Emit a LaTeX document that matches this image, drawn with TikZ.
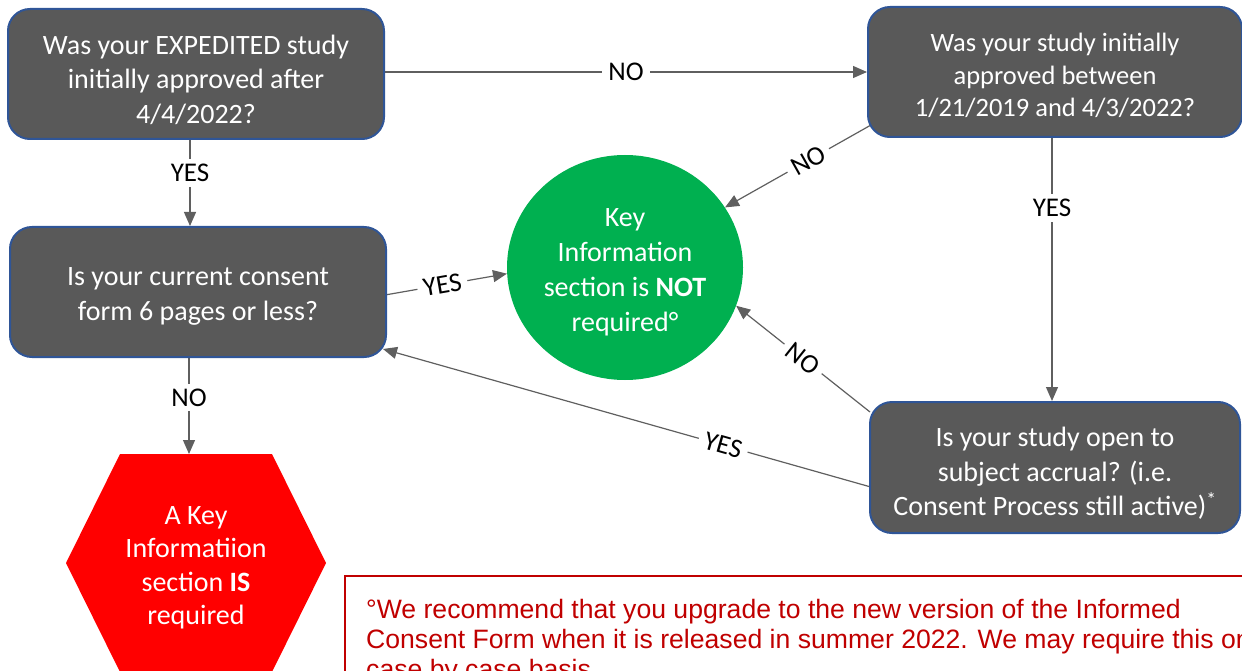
\documentclass[tikz,border=0pt]{standalone}
\usepackage{fontspec}
\setmainfont{Carlito}
\newfontfamily\arialfont{Liberation Sans}
\usetikzlibrary{arrows.meta,calc,shapes.geometric}
\pgfdeclarelayer{background}
\pgfsetlayers{background,main}
\definecolor{boxgray}{HTML}{595959}
\definecolor{boxblue}{HTML}{2F5597}
\definecolor{kgreen}{HTML}{00B050}
\definecolor{kred}{HTML}{FF0000}
\definecolor{dred}{HTML}{C00000}
\definecolor{lgray}{HTML}{5F5F5F}
\newcommand\topsp[1]{\rule{0pt}{#1}}
\begin{document}
\begin{tikzpicture}[x=1pt,y=-1pt,
  qbox/.style={draw=boxblue, line width=2pt, fill=boxgray, rounded corners=22pt,
    minimum width=376pt, minimum height=130pt, text=white, align=center,
    font=\fontsize{28}{34.5}\selectfont, inner sep=0pt},
  conn/.style={draw=lgray, line width=1.2pt, -{Triangle[length=14pt,width=12pt]}},
  lab/.style={fill=white, inner xsep=6pt, inner ysep=5pt, font=\fontsize{27}{30}\selectfont, text=black},
  endtext/.style={text=white, align=center, inner sep=0pt}
]
\useasboundingbox (0,0) rectangle (1242,671);
\clip (0,0) rectangle (1242,671);

% question boxes
\node[qbox] (A) at (196,74) {\topsp{40pt}Was your EXPEDITED study\\initially approved after\\4/4/2022?\strut};
\node[qbox, minimum width=374pt, font=\fontsize{26.5}{32.5}\selectfont] (B) at (1055,72)
  {\topsp{34.5pt}Was your study initially\\approved between\\1/21/2019 and 4/3/2022?\strut};
\node[qbox] (C) at (198,292) {\topsp{32pt}Is your current consent\\form 6 pages or less?\strut};
\node[qbox, minimum width=370pt, minimum height=131pt] (D) at (1055,467.5)
  {\topsp{38pt}Is your study open to\\subject accrual? (i.e.\\Consent Process still active)\textsuperscript{*}\strut};

% result ellipse
\node[ellipse, fill=kgreen, minimum width=236pt, minimum height=225pt, endtext,
  font=\fontsize{28}{35}\selectfont] (K) at (625,267.5)
  {\topsp{33pt}Key\\Information\\section is \textbf{NOT}\\required°\strut};

% result hexagon
\fill[kred] (120,454) -- (272,454) -- (326,563) -- (272,672) -- (120,672) -- (66,563) -- cycle;
\node[endtext, font=\fontsize{28}{33.4}\selectfont] (H) at (196,565)
  {\topsp{29pt}A Key\\Informatiion\\section \textbf{IS}\\required\strut};
\coordinate (Htop) at (189,454);

% note box
\draw[dred, line width=2pt] (345,576) rectangle (1320,740);
\node[anchor=north west, align=left, inner sep=0pt, text=dred,
  font=\arialfont\fontsize{26.6}{30}\selectfont] (note) at (366,597)
  {\strut °We recommend that you upgrade to the new version of the Informed\\
   Consent Form when it is released in summer 2022. We may require this on a\\
   case by case basis.\strut};

% connector end points
\coordinate (a0) at ($(A.east)+(0,-2)$);
\coordinate (a1) at ($(A.south)+(-6,0)$);
\coordinate (b1) at ($(B.south)+(-3,0)$);
\coordinate (c1) at ($(C.south)+(-9,0)$);
\coordinate (c2) at ($(C.east)+(-2,3)$);
\coordinate (c3) at ($(C.south east)+(-4,-9)$);
\coordinate (b2) at ($(B.south west)+(4,-13)$);
\coordinate (d1) at ($(D.north west)+(1,11)$);
\coordinate (d2) at ($(D.west)+(0,19)$);

% connectors
\begin{pgfonlayer}{background}
\draw[conn] (a0) -- node[lab,pos=.5]{NO} (a0 -| B.west);
\draw[conn] (a1) -- node[lab,pos=.38]{YES} (a1 |- C.north);
\draw[conn] (c2) -- node[lab,sloped,pos=.47,inner ysep=2pt]{YES} (K.183);
\draw[conn] (b2) -- node[lab,sloped,pos=.43,inner ysep=2pt]{NO} (K.31);
\draw[conn] (b1) -- node[lab,pos=.265]{YES} (b1 |- D.north);
\draw[conn] (d1) -- node[lab,sloped,pos=.5,inner ysep=2pt]{NO} (K.-19);
\draw[conn] (d2) -- node[lab,sloped,pos=.3,inner ysep=2pt]{YES} (c3);
\draw[conn] (c1) -- node[lab,pos=.41]{NO} (Htop);
\end{pgfonlayer}
\end{tikzpicture}
\end{document}
